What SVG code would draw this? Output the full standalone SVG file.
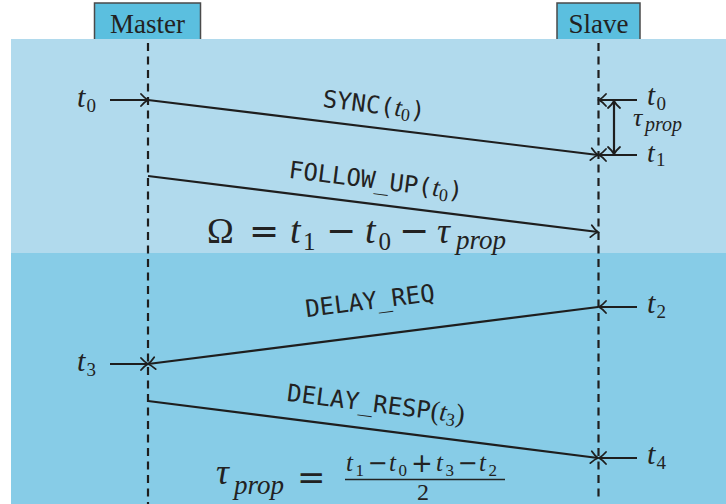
<svg xmlns="http://www.w3.org/2000/svg" width="726" height="504" viewBox="0 0 726 504">
<style>
.box{fill:#5bbfdf;stroke:#4a4a4a;stroke-width:1.5}
.hdr{font-family:"Liberation Serif",serif;font-size:27px;fill:#222;text-anchor:middle}
.life{stroke:#1e1e1e;stroke-width:2.2;stroke-dasharray:8 5.5;fill:none}
.msg{stroke:#1e1e1e;stroke-width:2.2;fill:none;marker-end:url(#ah)}
.mono{font-family:"DejaVu Sans Mono",monospace;font-size:24px;fill:#222}
.it{font-family:"Liberation Serif",serif;font-style:italic;fill:#222}
.rm{font-family:"Liberation Serif",serif;fill:#222}
.op{font-family:"DejaVu Sans",sans-serif;fill:#222}
</style>
<defs>
<marker id="ah" viewBox="-10 -8 12 16" refX="0" refY="0" markerWidth="12" markerHeight="16" markerUnits="userSpaceOnUse" orient="auto-start-reverse">
<path d="M-7,-6 Q-3,-1.5 0,0 Q-3,1.5 -7,6" fill="none" stroke="#1e1e1e" stroke-width="1.8" stroke-linecap="round"/>
</marker>
</defs>
<rect x="0" y="0" width="726" height="504" fill="#ffffff"/>
<g id="master">
<rect class="box" x="94.5" y="3" width="106" height="40"/>
<text class="hdr" x="147.5" y="33">Master</text>
</g>
<g id="slave">
<rect class="box" x="557" y="3" width="83" height="40"/>
<text class="hdr" x="598.5" y="33">Slave</text>
</g>
<rect id="sync-phase" x="11" y="39" width="715" height="214" fill="#b1daed"/>
<rect id="delay-phase" x="11" y="253" width="715" height="251" fill="#87cce7"/>
<g id="lifelines">
<line class="life" x1="148" y1="43" x2="148" y2="504"/>
<line class="life" x1="598.5" y1="43" x2="598.5" y2="500"/>
</g>
<g id="connectors">
<line class="msg" x1="110" y1="100" x2="148" y2="100"/>
<line class="msg" x1="148" y1="100" x2="598" y2="155"/>
<line class="msg" x1="637" y1="100" x2="599" y2="100"/>
<line class="msg" x1="637" y1="155" x2="599" y2="155"/>
<line class="msg" x1="614" y1="101" x2="614" y2="154" style="marker-start:url(#ah)"/>
<line class="msg" x1="148" y1="176" x2="598" y2="232"/>
<line class="msg" x1="637" y1="307" x2="599" y2="307"/>
<line class="msg" x1="598" y1="307" x2="148" y2="364"/>
<line class="msg" x1="110" y1="364" x2="148" y2="364"/>
<line class="msg" x1="148" y1="401" x2="598" y2="458"/>
<line class="msg" x1="637" y1="458" x2="599" y2="458"/>
</g>
<g id="message-labels">
<text class="mono" text-anchor="middle" transform="translate(373,113) rotate(6.97)">SYNC(<tspan class="it" font-size="26">t</tspan><tspan class="rm" font-size="18" dy="4">0</tspan><tspan dy="-4">)</tspan></text>
<text class="mono" text-anchor="middle" transform="translate(375,188.5) rotate(7.09)">FOLLOW_UP(<tspan class="it" font-size="26">t</tspan><tspan class="rm" font-size="18" dy="4">0</tspan><tspan dy="-4">)</tspan></text>
<text class="mono" text-anchor="middle" transform="translate(371,309) rotate(-7.22)">DELAY_REQ</text>
<text class="mono" text-anchor="middle" transform="translate(375,412) rotate(7.22)">DELAY_RESP<tspan class="rm" font-size="27">(</tspan><tspan class="it" font-size="26">t</tspan><tspan class="rm" font-size="18" dy="4">3</tspan><tspan class="rm" font-size="27" dy="-4">)</tspan></text>
</g>
<g id="time-labels">
<text class="it" font-size="30" x="77" y="107">t</text><text class="rm" font-size="19" x="86.5" y="112">0</text>
<text class="it" font-size="30" x="77" y="371">t</text><text class="rm" font-size="19" x="86.5" y="376">3</text>
<text class="it" font-size="29" x="647" y="105">t</text><text class="rm" font-size="19" x="656.5" y="110">0</text>
<text class="it" font-size="28" x="647" y="162">t</text><text class="rm" font-size="19" x="656" y="166">1</text>
<text class="it" font-size="26" x="633" y="126">τ</text><text class="it" font-size="20" x="645" y="131">prop</text>
<text class="it" font-size="30" x="647" y="313">t</text><text class="rm" font-size="19" x="656.5" y="318">2</text>
<text class="it" font-size="30" x="647" y="464">t</text><text class="rm" font-size="19" x="656.5" y="469">4</text>
</g>
<g id="offset-formula">
<text class="rm" font-size="36" x="207" y="243">Ω</text>
<text class="op" font-size="36" x="249" y="243">=</text>
<text class="it" font-size="38" x="290" y="243">t</text><text class="rm" font-size="25" x="303" y="250">1</text>
<text class="op" font-size="36" x="326" y="243">−</text>
<text class="it" font-size="38" x="365" y="243">t</text><text class="rm" font-size="25" x="378.5" y="250">0</text>
<text class="op" font-size="36" x="399" y="243">−</text>
<text class="it" font-size="36" x="437" y="243">τ</text><text class="it" font-size="27" x="456" y="249">prop</text>
</g>
<g id="delay-formula">
<text class="it" font-size="36" x="216" y="484">τ</text><text class="it" font-size="27" x="234" y="494">prop</text>
<text class="op" font-size="34" x="297" y="489">=</text>
<text class="it" font-size="25" x="346" y="471">t</text><text class="rm" font-size="17" x="355.5" y="476">1</text>
<text class="op" font-size="24" x="367.5" y="471">−</text>
<text class="it" font-size="25" x="389" y="471">t</text><text class="rm" font-size="17" x="398.5" y="476">0</text>
<text class="op" font-size="26" x="411" y="472">+</text>
<text class="it" font-size="25" x="436" y="471">t</text><text class="rm" font-size="17" x="445.5" y="476">3</text>
<text class="op" font-size="24" x="457.5" y="471">−</text>
<text class="it" font-size="25" x="479" y="471">t</text><text class="rm" font-size="17" x="488.5" y="476">2</text>
<line x1="345" y1="479.5" x2="505" y2="479.5" stroke="#222" stroke-width="1.5"/>
<text class="rm" font-size="24" x="423" y="500" text-anchor="middle">2</text>
</g>
</svg>
